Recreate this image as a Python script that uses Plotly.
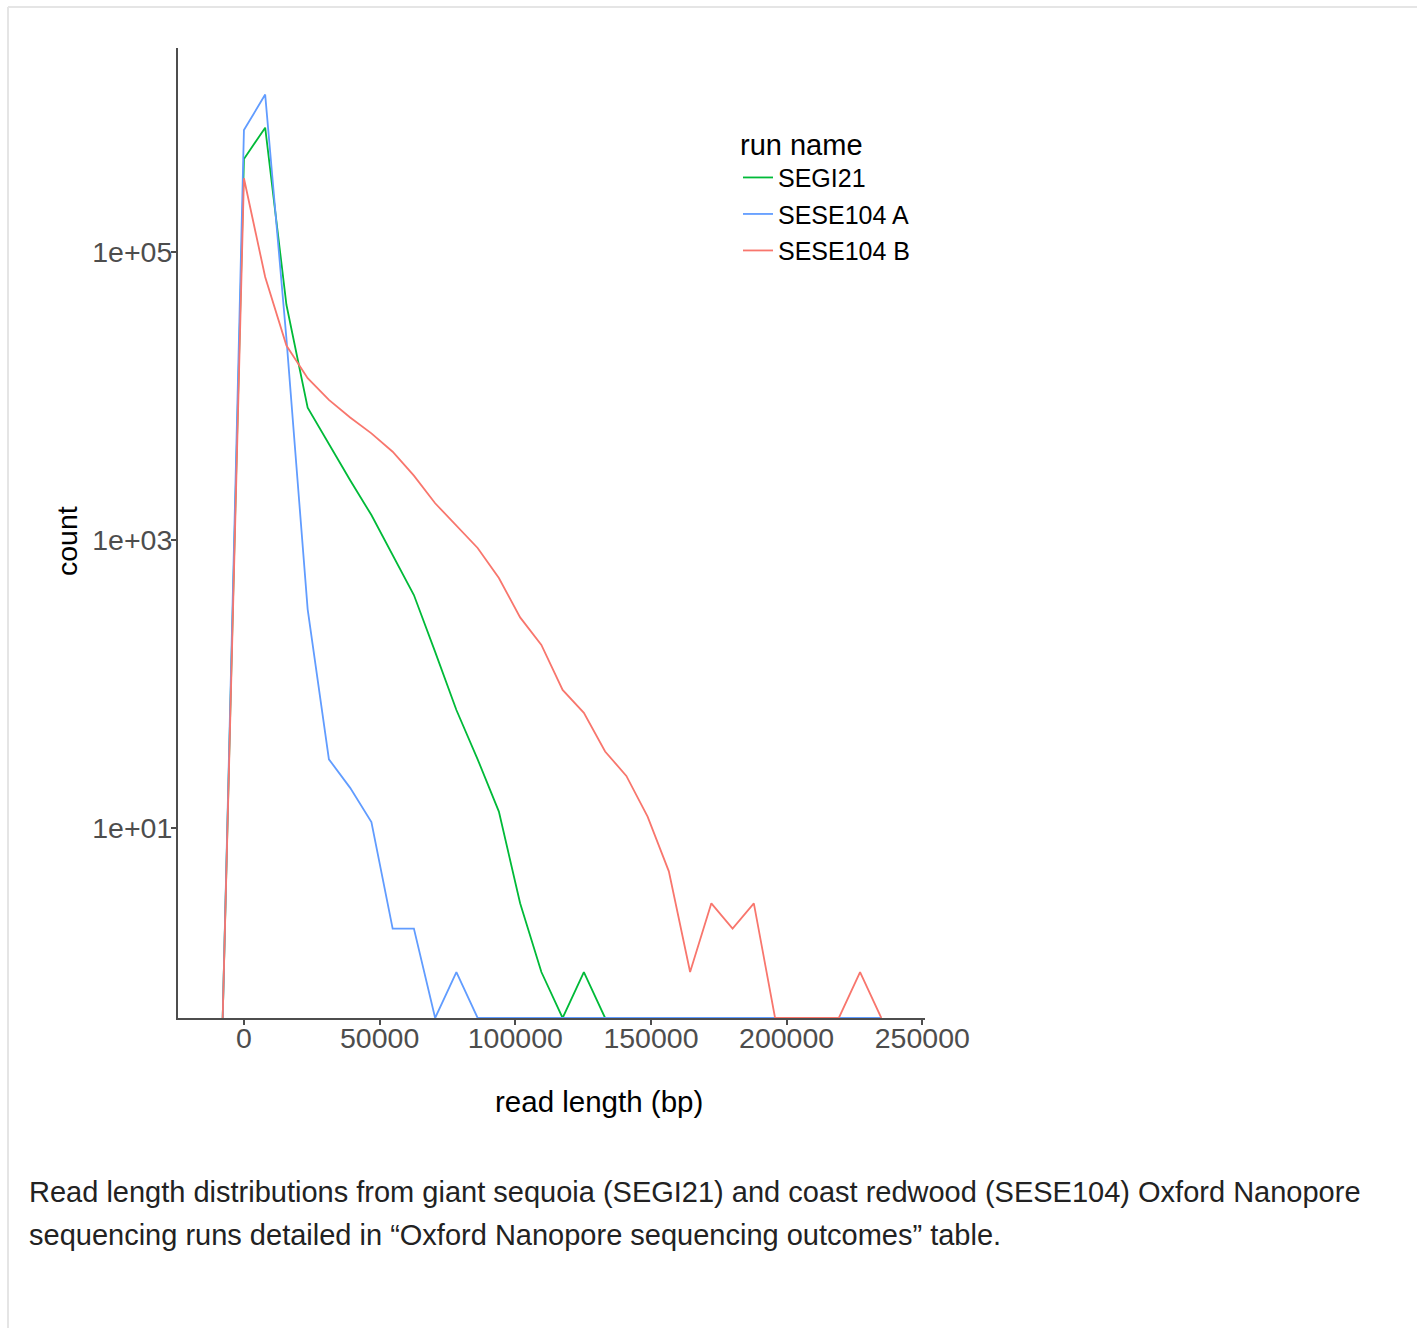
import plotly.graph_objects as go

# ---------------- data ----------------
read_length = [-7830, 0, 7830, 15660, 23490, 31320, 39150, 46980, 54810, 62640,
               70470, 78300, 86130, 93960, 101790, 109620, 117450, 125280, 133110,
               140940, 148770, 156600, 164430, 172260, 180090, 187920, 195750,
               203580, 211410, 219240, 227070, 234900]

segi21 = [0, 443000, 730000, 43000, 8300, 4600, 2600, 1490, 790, 415, 167, 66, 30,
          13, 3, 1, 0, 1, 0, 0, 0, 0, 0, 0, 0, 0, 0, 0, 0, 0, 0, 0]

sese104_a = [0, 703000, 1240000, 25000, 330, 30, 19, 11, 2, 2, 0, 1, 0, 0, 0, 0,
             0, 0, 0, 0, 0, 0, 0, 0, 0, 0, 0, 0, 0, 0, 0, 0]

sese104_b = [0, 325000, 67000, 22400, 13300, 9400, 7100, 5500, 4100, 2800, 1800,
             1260, 880, 545, 290, 187, 91, 63, 34, 23, 12, 5, 1, 3, 2, 3, 0, 0, 0,
             0, 1, 0]

series_names = ["SEGI21", "SESE104 A", "SESE104 B"]
x_tick_vals = [0, 50000, 100000, 150000, 200000, 250000]
x_tick_text = ["0", "50000", "100000", "150000", "200000", "250000"]
y_tick_vals = [10, 1000, 100000]
y_tick_text = ["1e+01", "1e+03", "1e+05"]

caption_1 = ("Read length distributions from giant sequoia (SEGI21) and coast redwood "
             "(SESE104) Oxford Nanopore")
caption_2 = "sequencing runs detailed in \u201cOxford Nanopore sequencing outcomes\u201d table."

# ---------------- styling / layout ----------------
W, H = 1423, 1328
PL, PR, PT, PB = 178, 925, 48, 1018     # plot area in pixels
Y_RANGE = [-0.3194, 6.4167]             # log10 range
X_RANGE = [-24300, 251000]
Y_FLOOR = 10 ** Y_RANGE[0]              # zero counts drawn at the panel edge
FONT = "Liberation Sans, Arial, Helvetica, sans-serif"
colors = ["#00BA38", "#619CFF", "#F8766D"]


def px(xp):
    return (xp - PL) / (PR - PL)


def py(yp):
    return (PB - yp) / (PB - PT)


fig = go.Figure()
for name, counts, color in zip(series_names, [segi21, sese104_a, sese104_b], colors):
    fig.add_trace(go.Scatter(
        x=read_length,
        y=[c if c > 0 else Y_FLOOR for c in counts],
        mode="lines",
        name=name,
        legendgroup=name,
        line=dict(color=color, width=1.8),
    ))

axis_common = dict(
    showline=True, linecolor="#4d4d4d", linewidth=2,
    ticks="outside", ticklen=5, tickwidth=2, tickcolor="#4d4d4d",
    showgrid=False, zeroline=False,
    tickfont=dict(family=FONT, size=28.5, color="#4d4d4d"),
)

fig.update_layout(
    width=W, height=H,
    margin=dict(l=PL, r=W - PR, t=PT, b=H - PB, pad=0),
    paper_bgcolor="white", plot_bgcolor="white",
    font=dict(family=FONT, color="black"),
    xaxis=dict(range=X_RANGE, tickmode="array", tickvals=x_tick_vals,
               ticktext=x_tick_text, ticklabelstandoff=-11, **axis_common),
    yaxis=dict(type="log", range=Y_RANGE, tickmode="array", tickvals=y_tick_vals,
               ticktext=y_tick_text, ticklabelstandoff=-7, **axis_common),
    showlegend=True,
    legend=dict(
        title=dict(text="run name", font=dict(family=FONT, size=29, color="black")),
        font=dict(family=FONT, size=25, color="black"),
        x=px(738), y=py(117), xanchor="left", yanchor="top",
        bgcolor="rgba(0,0,0,0)", borderwidth=0,
        itemwidth=30, tracegroupgap=1,
    ),
    annotations=[
        dict(text="read length (bp)", x=px(599), y=py(1101), xref="paper", yref="paper",
             showarrow=False, xanchor="center", yanchor="middle",
             font=dict(family=FONT, size=29.5, color="black")),
        dict(text="count", x=px(67), y=py(541), xref="paper", yref="paper",
             showarrow=False, xanchor="center", yanchor="middle", textangle=-90,
             font=dict(family=FONT, size=28.5, color="black")),
        dict(text=caption_1, x=px(27), y=py(1192), xref="paper", yref="paper",
             showarrow=False, xanchor="left", yanchor="middle",
             font=dict(family=FONT, size=29, color="#222222")),
        dict(text=caption_2, x=px(27), y=py(1235), xref="paper", yref="paper",
             showarrow=False, xanchor="left", yanchor="middle",
             font=dict(family=FONT, size=29, color="#222222")),
    ],
    shapes=[
        dict(type="line", xref="paper", yref="paper", x0=px(8), x1=px(1417),
             y0=py(7), y1=py(7), line=dict(color="#e5e5e5", width=2), layer="below"),
        dict(type="line", xref="paper", yref="paper", x0=px(8), x1=px(8),
             y0=py(7), y1=py(1330), line=dict(color="#e5e5e5", width=2), layer="below"),
    ],
)

fig.write_html("out.html")
